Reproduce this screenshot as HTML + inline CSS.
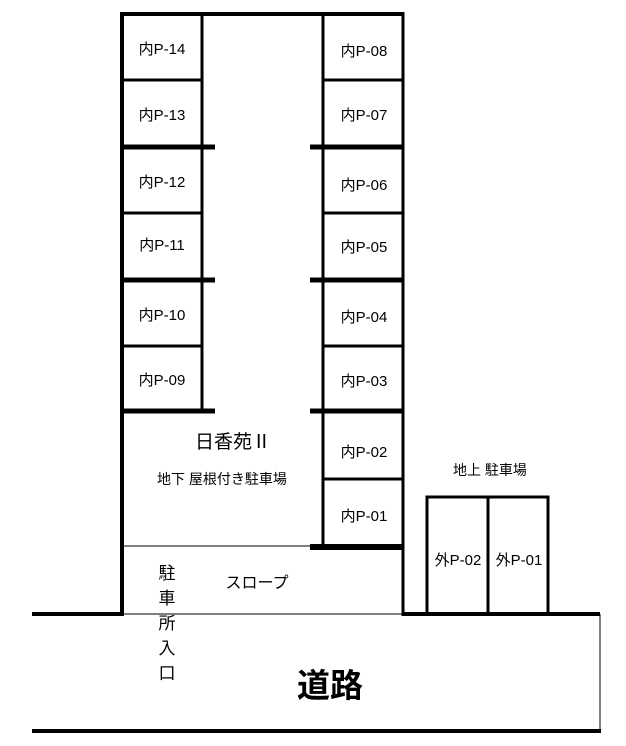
<!DOCTYPE html>
<html><head><meta charset="utf-8"><style>
body{margin:0;background:#fff;width:626px;height:741px;overflow:hidden}
svg text{font-family:"Liberation Sans","Noto Sans CJK JP",sans-serif;fill:#000}
</style></head><body>
<svg width="626" height="741" viewBox="0 0 626 741" xmlns="http://www.w3.org/2000/svg">
<g stroke="#000" fill="none" stroke-linecap="butt">
<line x1="122" y1="14" x2="403" y2="14" stroke-width="4"/>
<line x1="122" y1="12" x2="122" y2="616" stroke-width="4"/>
<line x1="403" y1="12" x2="403" y2="616" stroke-width="3"/>
<line x1="202" y1="14" x2="202" y2="411" stroke-width="3"/>
<line x1="323" y1="14" x2="323" y2="547" stroke-width="3"/>
<line x1="122" y1="80" x2="202" y2="80" stroke-width="3"/>
<line x1="122" y1="147" x2="215" y2="147" stroke-width="5"/>
<line x1="122" y1="213" x2="202" y2="213" stroke-width="3"/>
<line x1="122" y1="280" x2="215" y2="280" stroke-width="5"/>
<line x1="122" y1="346" x2="202" y2="346" stroke-width="3"/>
<line x1="122" y1="411" x2="215" y2="411" stroke-width="5"/>
<line x1="323" y1="80" x2="403" y2="80" stroke-width="3"/>
<line x1="310" y1="147" x2="403" y2="147" stroke-width="5"/>
<line x1="323" y1="213" x2="403" y2="213" stroke-width="3"/>
<line x1="310" y1="280" x2="403" y2="280" stroke-width="5"/>
<line x1="323" y1="346" x2="403" y2="346" stroke-width="3"/>
<line x1="310" y1="411" x2="403" y2="411" stroke-width="5"/>
<line x1="323" y1="479" x2="403" y2="479" stroke-width="3"/>
<line x1="310" y1="547" x2="403" y2="547" stroke-width="6"/>
<line x1="122" y1="546" x2="310" y2="546" stroke-width="1"/>
<line x1="32" y1="614" x2="123" y2="614" stroke-width="4"/>
<line x1="123" y1="614" x2="403" y2="614" stroke-width="1"/>
<line x1="403" y1="614" x2="600" y2="614" stroke-width="4"/>
<line x1="600" y1="614" x2="600" y2="731" stroke-width="1"/>
<line x1="32" y1="731" x2="601" y2="731" stroke-width="4"/>
<rect x="427" y="497" width="121" height="117" stroke-width="3"/>
<line x1="488" y1="497" x2="488" y2="614" stroke-width="3"/>
</g>
<g font-size="15">
<text x="162" y="54" text-anchor="middle">内P-14</text>
<text x="162" y="120" text-anchor="middle">内P-13</text>
<text x="162" y="187" text-anchor="middle">内P-12</text>
<text x="162" y="250" text-anchor="middle">内P-11</text>
<text x="162" y="320" text-anchor="middle">内P-10</text>
<text x="162" y="385" text-anchor="middle">内P-09</text>
<text x="364" y="56" text-anchor="middle">内P-08</text>
<text x="364" y="120" text-anchor="middle">内P-07</text>
<text x="364" y="190" text-anchor="middle">内P-06</text>
<text x="364" y="252" text-anchor="middle">内P-05</text>
<text x="364" y="322" text-anchor="middle">内P-04</text>
<text x="364" y="386" text-anchor="middle">内P-03</text>
<text x="364" y="457" text-anchor="middle">内P-02</text>
<text x="364" y="521" text-anchor="middle">内P-01</text>
<text x="458" y="565" text-anchor="middle">外P-02</text>
<text x="519" y="565" text-anchor="middle">外P-01</text>
<text x="490" y="475" text-anchor="middle" font-size="14">地上 駐車場</text>
<text x="222" y="484" text-anchor="middle" font-size="14">地下 屋根付き駐車場</text>
<text x="257" y="588" text-anchor="middle" font-size="16">スロープ</text>
</g>
<text x="233" y="448" text-anchor="middle" font-size="19">日香苑Ⅱ</text>
<g font-size="17" text-anchor="middle">
<text x="167" y="579">駐</text>
<text x="167" y="604">車</text>
<text x="167" y="629">所</text>
<text x="167" y="654">入</text>
<text x="167" y="679">口</text>
</g>
<text x="330" y="697" text-anchor="middle" font-size="33" font-weight="bold">道路</text>
</svg>
</body></html>
